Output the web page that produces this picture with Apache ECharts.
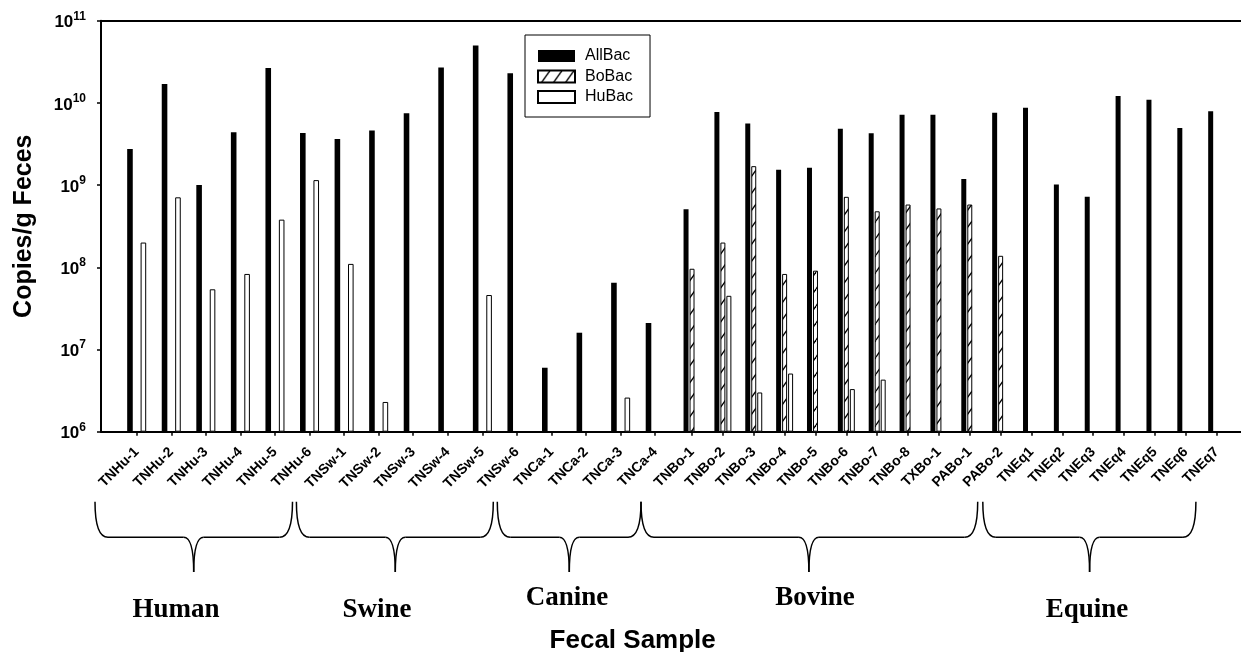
<!DOCTYPE html>
<html>
<head>
<meta charset="utf-8">
<script src="https://cdn.jsdelivr.net/npm/echarts@6/dist/echarts.min.js"></script>
<style>
  html, body { margin: 0; padding: 0; background: #fff; }
  #chart { width: 1241px; height: 652px; }
</style>
</head>
<body>
<div id="chart"></div>
<script>
// ---------------- DATA ----------------
const categories = [
  'TNHu-1','TNHu-2','TNHu-3','TNHu-4','TNHu-5','TNHu-6',
  'TNSw-1','TNSw-2','TNSw-3','TNSw-4','TNSw-5','TNSw-6',
  'TNCa-1','TNCa-2','TNCa-3','TNCa-4',
  'TNBo-1','TNBo-2','TNBo-3','TNBo-4','TNBo-5','TNBo-6','TNBo-7','TNBo-8',
  'TXBo-1','PABo-1','PABo-2',
  'TNEq1','TNEq2','TNEq3','TNEq4','TNEq5','TNEq6','TNEq7'
];
const allBac = [
  2.75e9, 1.7e10, 1.0e9, 4.4e9, 2.65e10, 4.3e9,
  3.65e9, 4.6e9, 7.5e9, 2.7e10, 5.0e10, 2.3e10,
  6.0e6, 1.6e7, 6.5e7, 2.1e7,
  5.1e8, 7.75e9, 5.6e9, 1.54e9, 1.63e9, 4.85e9, 4.27e9, 7.2e9,
  7.2e9, 1.19e9, 7.6e9,
  8.7e9, 1.02e9, 7.2e8, 1.21e10, 1.09e10, 4.95e9, 7.9e9
];
const boBac = [
  null, null, null, null, null, null,
  null, null, null, null, null, null,
  null, null, null, null,
  9.6e7, 2.0e8, 1.7e9, 8.3e7, 9.1e7, 7.2e8, 4.8e8, 5.8e8,
  5.2e8, 5.8e8, 1.38e8,
  null, null, null, null, null, null, null
];
const huBac = [
  2.0e8, 7.1e8, 5.4e7, 8.3e7, 3.8e8, 1.15e9,
  1.1e8, 2.3e6, null, null, 4.6e7, null,
  null, null, 2.6e6, null,
  null, 4.5e7, 3.0e6, 5.1e6, null, 3.3e6, 4.3e6, null,
  null, null, null,
  null, null, null, null, null, null, null
];
const seriesNames = ['AllBac', 'BoBac', 'HuBac'];
const yExponents = [6, 7, 8, 9, 10, 11];          // tick labels 10^6 ... 10^11
const groupNames = ['Human', 'Swine', 'Canine', 'Bovine', 'Equine'];
const groupSizes = [6, 6, 4, 11, 7];

// ---------------- LAYOUT ----------------
const FONT = '"Liberation Sans", Arial, Helvetica, sans-serif';
const SERIF = '"Liberation Serif", "Times New Roman", serif';
const plotTop = 20.7, plotH = 411;
const panelSplit = groupSizes[0] + groupSizes[1] + groupSizes[2]; // left panel holds Human/Swine/Canine
const panels = [
  { left: 119.4, width: 553.1 },
  { left: 676.6, width: 555.5 }
];
// brace annotations (x0, xc, x1) and group-label centres, in pixels
const braceLayout = [
  { x0: 95,    xc: 193.7,  x1: 292.5,  lx: 176,   ly: 610 },
  { x0: 296.4, xc: 395.3,  x1: 493.3,  lx: 377,   ly: 610 },
  { x0: 497.3, xc: 569.3,  x1: 641,    lx: 567,   ly: 598 },
  { x0: 641,   xc: 808.9,  x1: 977.7,  lx: 815,   ly: 598 },
  { x0: 982.8, xc: 1089.6, x1: 1195.9, lx: 1087,  ly: 610 }
];
const braceTop = 501.7, braceMid = 537.3, braceTip = 572;

// hatch pattern for BoBac
function makeHatch() {
  const w = 12, h = 17;
  const c = document.createElement('canvas');
  c.width = w; c.height = h;
  const ctx = c.getContext('2d');
  ctx.fillStyle = '#fff';
  ctx.fillRect(0, 0, w, h);
  ctx.strokeStyle = '#000';
  ctx.lineWidth = 1.3;
  for (const dx of [-w, 0, w]) {
    ctx.beginPath();
    ctx.moveTo(dx, h);
    ctx.lineTo(dx + w, 0);
    ctx.stroke();
  }
  return c;
}
const hatch = { image: makeHatch(), repeat: 'repeat' };

const styles = [
  { color: '#000', borderColor: '#000', borderWidth: 0 },
  { color: hatch, borderColor: '#000', borderWidth: 1 },
  { color: '#fff', borderColor: '#000', borderWidth: 1 }
];
const values = [allBac, boBac, huBac];

const yMin = Math.pow(10, yExponents[0]);
const yMax = Math.pow(10, yExponents[yExponents.length - 1]);

const grids = panels.map(p => ({ left: p.left, width: p.width, top: plotTop, height: plotH }));
grids.push({ left: 101, width: 1170, top: plotTop, height: plotH });

const xAxes = panels.map((p, i) => ({
  gridIndex: i,
  type: 'category',
  data: i === 0 ? categories.slice(0, panelSplit) : categories.slice(panelSplit),
  axisLine: { show: false },
  axisTick: { show: true, alignWithLabel: true, length: 4, lineStyle: { color: '#000', width: 1.5 } },
  axisLabel: { interval: 0, rotate: 45, fontSize: 14, fontWeight: 'bold', color: '#000', fontFamily: FONT, margin: 18 },
  splitLine: { show: false }
}));
const frameLine = { show: true, lineStyle: { color: '#000', width: 2 } };
xAxes.push({ gridIndex: 2, type: 'value', min: 0, max: 1, position: 'bottom', axisLine: frameLine,
  axisTick: { show: false }, axisLabel: { show: false }, splitLine: { show: false } });
xAxes.push({ gridIndex: 2, type: 'value', min: 0, max: 1, position: 'top', axisLine: frameLine,
  axisTick: { show: false }, axisLabel: { show: false }, splitLine: { show: false } });

const yAxes = panels.map((p, i) => ({
  gridIndex: i, type: 'log', logBase: 10, min: yMin, max: yMax, startValue: yMin, show: false
}));
yAxes.push({
  gridIndex: 2, type: 'log', logBase: 10, min: yMin, max: yMax,
  axisLine: { show: true, lineStyle: { color: '#000', width: 2 } },
  axisTick: { show: true, length: 4, lineStyle: { color: '#000', width: 1.5 } },
  splitLine: { show: false },
  minorTick: { show: false },
  axisLabel: {
    margin: 15,
    formatter: v => '{b|10}{e|' + Math.round(Math.log10(v)) + '}',
    rich: {
      b: { fontSize: 17, fontWeight: 'bold', color: '#000', fontFamily: FONT, verticalAlign: 'bottom', lineHeight: 21 },
      e: { fontSize: 12, fontWeight: 'bold', color: '#000', fontFamily: FONT, verticalAlign: 'top', lineHeight: 21 }
    }
  },
  name: 'Copies/g Feces',
  nameLocation: 'middle',
  nameGap: 64,
  nameTextStyle: { fontSize: 25, fontWeight: 'bold', color: '#000', fontFamily: FONT }
});

const series = [];
panels.forEach((p, pi) => {
  seriesNames.forEach((name, si) => {
    const arr = values[si];
    series.push({
      type: 'bar',
      name: name,
      xAxisIndex: pi,
      yAxisIndex: pi,
      data: pi === 0 ? arr.slice(0, panelSplit) : arr.slice(panelSplit),
      barGap: '20%',
      barCategoryGap: '45%',
      itemStyle: styles[si],
      clip: true,
      silent: true
    });
  });
});

// graphic annotations: braces, group names, x title
const graphics = [];
braceLayout.forEach((b, i) => {
  const st = { stroke: '#000', lineWidth: 1.5, fill: null };
  const r = 13, r2 = 10;
  graphics.push({ type: 'bezierCurve', shape: { x1: b.x0, y1: braceTop, cpx1: b.x0, cpy1: braceMid, x2: b.x0 + r, y2: braceMid }, style: st });
  graphics.push({ type: 'line', shape: { x1: b.x0 + r, y1: braceMid, x2: b.xc - r2, y2: braceMid }, style: st });
  graphics.push({ type: 'bezierCurve', shape: { x1: b.xc - r2, y1: braceMid, cpx1: b.xc, cpy1: braceMid, x2: b.xc, y2: braceTip }, style: st });
  graphics.push({ type: 'bezierCurve', shape: { x1: b.xc, y1: braceTip, cpx1: b.xc, cpy1: braceMid, x2: b.xc + r2, y2: braceMid }, style: st });
  graphics.push({ type: 'line', shape: { x1: b.xc + r2, y1: braceMid, x2: b.x1 - r, y2: braceMid }, style: st });
  graphics.push({ type: 'bezierCurve', shape: { x1: b.x1 - r, y1: braceMid, cpx1: b.x1, cpy1: braceMid, x2: b.x1, y2: braceTop }, style: st });
  graphics.push({ type: 'text', x: b.lx, y: b.ly, style: {
    text: groupNames[i], fill: '#000', font: 'bold 27px ' + SERIF, align: 'center', verticalAlign: 'middle' } });
});
graphics.push({ type: 'text', x: 632.7, y: 641, style: {
  text: 'Fecal Sample', fill: '#000', font: 'bold 26px ' + FONT, align: 'center', verticalAlign: 'middle' } });

const chart = echarts.init(document.getElementById('chart'), null, { renderer: 'canvas' });
chart.setOption({
  animation: false,
  backgroundColor: '#fff',
  grid: grids,
  xAxis: xAxes,
  yAxis: yAxes,
  legend: {
    data: seriesNames,
    orient: 'vertical',
    left: 525, top: 35,
    padding: [13, 17, 12, 12],
    itemWidth: 37, itemHeight: 12, itemGap: 4.5,
    icon: 'rect',
    borderColor: '#000', borderWidth: 1, backgroundColor: '#fff',
    selectedMode: false,
    textStyle: { fontSize: 16, color: '#000', fontFamily: FONT, lineHeight: 16, padding: [0, 0, 0, 5] }
  },
  graphic: { elements: graphics },
  series: series
});
</script>
</body>
</html>
